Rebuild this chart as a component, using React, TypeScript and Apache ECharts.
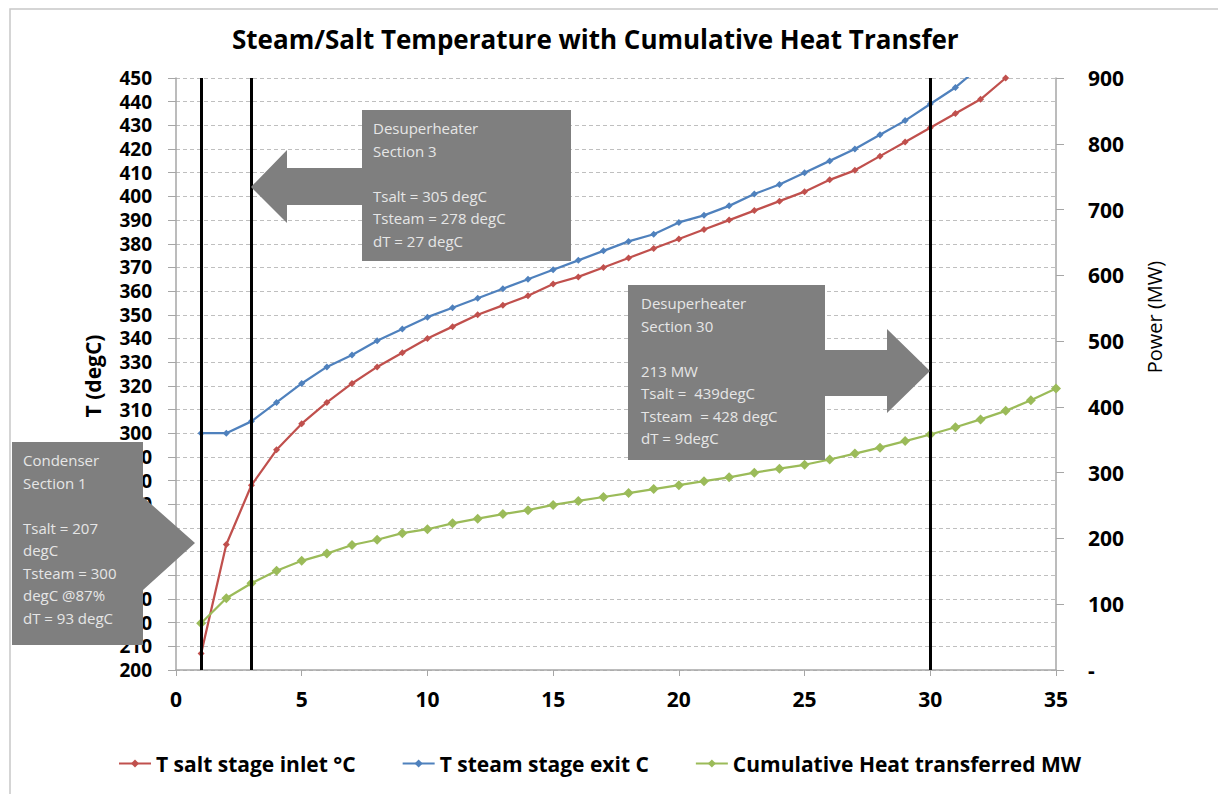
import React, { useEffect, useRef } from "react";
import * as echarts from "echarts";

// ---- data ----
const stages = [1, 2, 3, 4, 5, 6, 7, 8, 9, 10, 11, 12, 13, 14, 15, 16, 17, 18, 19, 20, 21, 22, 23, 24, 25, 26, 27, 28, 29, 30, 31, 32, 33, 34, 35];
const saltTemp = [207, 253, 278, 293, 304, 313, 321, 328, 334, 340, 345, 350, 354, 358, 363, 366, 370, 374, 378, 382, 386, 390, 394, 398, 402, 407, 411, 417, 423, 429, 435, 441, 450];
const steamTemp = [300, 300, 305, 313, 321, 328, 333, 339, 344, 349, 353, 357, 361, 365, 369, 373, 377, 381, 384, 389, 392, 396, 401, 405, 410, 415, 420, 426, 432, 439, 446, 455];
const heatMW = [71, 109, 132, 151, 166, 177, 190, 198, 208, 214, 223, 230, 237, 243, 251, 257, 263, 269, 275, 281, 287, 293, 300, 306, 312, 320, 329, 338, 348, 358, 369, 381, 394, 410, 428];
const sectionLines = [1, 3, 30];

const seriesNames = ["T salt stage inlet °C", "T steam stage exit C", "Cumulative Heat transferred MW"];
const titleText = "Steam/Salt Temperature with Cumulative Heat Transfer";
const leftAxisName = "T (degC)";
const rightAxisName = "Power (MW)";

const note3 = ["Desuperheater", "Section 3", "", "Tsalt = 305 degC", "Tsteam = 278 degC", "dT = 27 degC"];
const note30 = ["Desuperheater", "Section 30", "", "213 MW", "Tsalt =  439degC", "Tsteam  = 428 degC", "dT = 9degC"];
const note1 = ["Condenser", "Section 1", "", "Tsalt = 207", "degC", "Tsteam = 300", "degC @87%", "dT = 93 degC"];

const FONT = "'Open Sans', 'DejaVu Sans', sans-serif";
const RED = "#C0504D";
const BLUE = "#4F81BD";
const GREEN = "#9BBB59";
const BOX = "#7f7f7f";
const BOXTEXT = "#e6e6e6";

const pairs = (ys: number[]) => ys.map((y, i) => [stages[i], y]);

export default function App() {
  const ref = useRef<HTMLDivElement>(null);
  useEffect(() => {
    if (!ref.current) return;
    const chart = echarts.init(ref.current, null, { renderer: "svg" });
    const noteText = (lines: string[], x: number, y: number) => ({
      type: "text",
      z: 101,
      x,
      y,
      style: {
        text: lines.join("\n"),
        fill: BOXTEXT,
        font: `15px ${FONT}`,
        lineHeight: 22.5,
        textAlign: "left",
        textVerticalAlign: "top",
      },
    });
    const option: any = {
      animation: false,
      backgroundColor: "#ffffff",
      title: {
        text: titleText,
        left: 232,
        top: 26,
        padding: 0,
        textStyle: { fontFamily: FONT, fontSize: 26, fontWeight: "bold", color: "#000" },
      },
      legend: {
        left: 113,
        top: 748,
        itemWidth: 32,
        itemHeight: 10,
        itemGap: 46,
        textStyle: { fontFamily: FONT, fontSize: 21, fontWeight: "bold", color: "#000" },
        data: seriesNames,
      },
      grid: { left: 176, right: 162, top: 78, bottom: 124 },
      xAxis: {
        type: "value",
        min: 0,
        max: 35,
        interval: 5,
        axisLine: { show: true, lineStyle: { color: "#a6a6a6", width: 1.5 } },
        axisTick: { show: true, length: 6, lineStyle: { color: "#a6a6a6" } },
        axisLabel: { fontFamily: FONT, fontSize: 21, fontWeight: "bold", color: "#000", margin: 18 },
        splitLine: { show: false },
      },
      yAxis: [
        {
          type: "value",
          min: 200,
          max: 450,
          interval: 10,
          axisLine: { show: true, lineStyle: { color: "#a6a6a6", width: 1.5 } },
          axisTick: { show: true, length: 8, lineStyle: { color: "#a6a6a6" } },
          axisLabel: { fontFamily: FONT, fontSize: 19, lineHeight: 19, fontWeight: "bold", color: "#000", margin: 24 },
          splitLine: { show: true, lineStyle: { color: "#bfbfbf", type: [4, 3], width: 1 } },
        },
        {
          type: "value",
          min: 0,
          max: 900,
          interval: 100,
          position: "right",
          axisLine: { show: true, lineStyle: { color: "#a6a6a6", width: 1.5 } },
          axisTick: { show: true, length: 8, lineStyle: { color: "#a6a6a6" } },
          axisLabel: {
            fontFamily: FONT,
            fontSize: 21,
            fontWeight: "bold",
            color: "#000",
            margin: 32,
            formatter: (v: number) => (v === 0 ? "-" : String(v)),
          },
          splitLine: { show: false },
        },
      ],
      series: [
        {
          name: seriesNames[0],
          type: "line",
          yAxisIndex: 0,
          data: pairs(saltTemp),
          color: RED,
          lineStyle: { width: 2.25, color: RED },
          symbol: "diamond",
          symbolSize: 7,
          itemStyle: { color: RED },
          clip: true,
          markLine: {
            silent: true,
            symbol: ["none", "none"],
            label: { show: false },
            lineStyle: { color: "#000", width: 3, type: "solid" },
            data: sectionLines.map((v) => ({ xAxis: v })),
          },
        },
        {
          name: seriesNames[1],
          type: "line",
          yAxisIndex: 0,
          data: pairs(steamTemp),
          color: BLUE,
          lineStyle: { width: 2.25, color: BLUE },
          symbol: "diamond",
          symbolSize: 7,
          itemStyle: { color: BLUE },
          clip: true,
        },
        {
          name: seriesNames[2],
          type: "line",
          yAxisIndex: 1,
          data: pairs(heatMW),
          color: GREEN,
          lineStyle: { width: 2.25, color: GREEN },
          symbol: "diamond",
          symbolSize: 10,
          itemStyle: { color: GREEN },
          clip: true,
        },
      ],
      graphic: [
        {
          type: "rect",
          z: -1,
          shape: { x: 10, y: 9, width: 1230, height: 800 },
          style: { fill: "none", stroke: "#c8c8c8", lineWidth: 1.5 },
          silent: true,
        },
        {
          type: "text",
          z: 50,
          x: 93,
          y: 376,
          rotation: Math.PI / 2,
          style: {
            text: leftAxisName,
            font: `bold 21px ${FONT}`,
            fill: "#000",
            textAlign: "center",
            textVerticalAlign: "middle",
          },
        },
        {
          type: "text",
          z: 50,
          x: 1154,
          y: 317,
          rotation: Math.PI / 2,
          style: {
            text: rightAxisName,
            font: `20px ${FONT}`,
            fill: "#000",
            textAlign: "center",
            textVerticalAlign: "middle",
          },
        },
        {
          type: "polygon",
          z: 100,
          shape: {
            points: [
              [362, 110], [571, 110], [571, 261], [362, 261], [362, 205], [287, 205],
              [287, 223], [251, 187], [287, 150], [287, 168], [362, 168],
            ],
          },
          style: { fill: BOX },
        },
        noteText(note3, 373, 117),
        {
          type: "polygon",
          z: 100,
          shape: {
            points: [
              [628, 285], [825, 285], [825, 350], [887, 350], [887, 329], [930, 371],
              [887, 413], [887, 396], [825, 396], [825, 460], [628, 460],
            ],
          },
          style: { fill: BOX },
        },
        noteText(note30, 641, 292),
        {
          type: "polygon",
          z: 100,
          shape: {
            points: [[12, 442], [143, 442], [143, 497], [195, 543], [143, 590], [143, 645], [12, 645]],
          },
          style: { fill: BOX },
        },
        noteText(note1, 23, 449),
      ],
    };
    chart.setOption(option);
    return () => chart.dispose();
  }, []);
  return <div ref={ref} style={{ position: "absolute", left: 0, top: 0, width: 1218, height: 794 }} />;
}
